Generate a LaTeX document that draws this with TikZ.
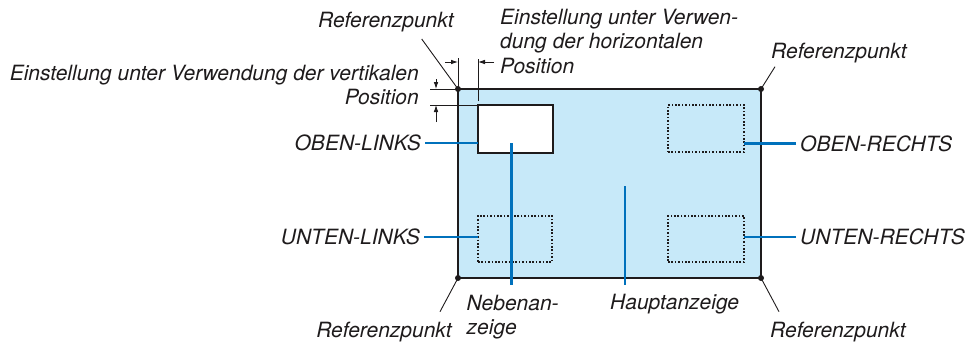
\documentclass[tikz,border=0pt]{standalone}
\usepackage{fontspec}
\setmainfont{TeX Gyre Heros}
\usepackage{tikz}
\usetikzlibrary{arrows.meta,positioning,calc}
\definecolor{screenblue}{RGB}{199,233,249}
\definecolor{leadblue}{RGB}{0,113,188}
\definecolor{inkgray}{RGB}{30,27,28}

\begin{document}
\begin{tikzpicture}[
    x=1pt, y=-1pt,
    lbl/.style={
        font=\fontsize{21}{24.5}\selectfont\itshape,
        text=inkgray,
        inner sep=0pt
    },
    screen/.style={
        draw=inkgray,
        line width=1.4pt,
        fill=screenblue,
        inner sep=0pt, outer sep=0pt
    },
    subwin/.style={
        draw=inkgray,
        line width=1.2pt,
        fill=white,
        inner sep=0pt, outer sep=0pt
    },
    spot/.style={
        draw=inkgray,
        line width=1.2pt,
        dash pattern=on 1.6pt off 1.8pt,
        inner sep=0pt, outer sep=0pt
    },
    lead/.style={draw=leadblue, line width=2.5pt},
    pin/.style={draw=inkgray, line width=0.9pt},
    dim/.style={-{Latex[length=7pt,width=4.6pt]}, line width=0.8pt, inkgray}
]
\useasboundingbox (0,0) rectangle (971,345);

\node[screen, minimum width=303pt, minimum height=189pt] (main) at (609.5,183.5) {};
\node[subwin, minimum width=75pt, minimum height=48pt] (sub) at (515.5,129) {};
\node[spot, minimum width=74pt, minimum height=46pt] (ul) at (515,239) {};
\node[spot, minimum width=76pt, minimum height=47pt] (or) at (706,128.5) {};
\node[spot, minimum width=76pt, minimum height=46pt] (ur) at (706,239) {};

\node[lbl, anchor=east, inner xsep=4pt] (tol) at (425,143) {OBEN-LINKS};
\node[lbl, anchor=east, inner xsep=4pt] (tul) at (424,237) {UNTEN-LINKS};
\node[lbl, anchor=west, inner xsep=4pt] (tor) at (796,143.5) {OBEN-RECHTS};
\node[lbl, anchor=west, inner xsep=4pt] (tur) at (796,237) {UNTEN-RECHTS};

\draw[lead] (tol) -- (tol -| sub.west);
\draw[lead] (tul) -- (tul -| ul.west);
\draw[lead] (tor) -- (tor -| or.east);
\draw[lead] (tur) -- (tur -| ur.east);

\coordinate (subpt) at (511.7,143);
\coordinate (nebend) at (511.7,285);
\coordinate (hauptpt) at (625,186);
\coordinate (hauptend) at (625,285);
\draw[lead] (subpt) -- (nebend);
\draw[lead] (hauptpt) -- (hauptend);
\node[lbl, align=left, anchor=north west] (neben) at (466.5,294.5) {Nebenan-\\zeige};
\node[lbl, anchor=base west] (haupt) at (610,309) {Hauptanzeige};

\foreach \c in {north west, north east, south west, south east}
    \fill[inkgray] (main.\c) circle[radius=3pt];

\coordinate (tlend) at (421.7,39);
\coordinate (trend) at (775,66.7);
\coordinate (blend) at (440,311.7);
\coordinate (brend) at (779,311.7);
\draw[pin] (tlend) -- (main.north west);
\draw[pin] (trend) -- (main.north east);
\draw[pin] (main.south west) -- (blend);
\draw[pin] (main.south east) -- (brend);

\node[lbl, anchor=base west] (reftl) at (318,28) {Referenzpunkt};
\node[lbl, anchor=base west] (reftr) at (771,59) {Referenzpunkt};
\node[lbl, anchor=base east] (refbl) at (452,337) {Referenzpunkt};
\node[lbl, anchor=base west] (refbr) at (770,337) {Referenzpunkt};

\node[lbl, align=left, anchor=north west] (horiz) at (500,8.7) {Einstellung unter Verwen-\\dung der horizontalen\\Position};
\node[lbl, align=right, anchor=north east] (vert) at (419,64.7) {Einstellung unter Verwendung der vertikalen\\Position};

\draw[pin] (main.north west) -- ++(0,-31);
\draw[pin] ($(sub.north west)+(0,-4)$) -- ++(0,-42);
\draw[dim] ($(main.north west)+(-13,-27)$) -- ++(13,0);
\draw[dim] ($(sub.north west)+(16,-43)$) -- ++(-16,0);

\draw[pin] (main.north west) -- ++(-28,0);
\draw[pin] (sub.north west) -- ++(-48,0);
\draw[dim] ($(main.north west)+(-22,-10)$) -- ++(0,10);
\draw[dim] ($(sub.north west)+(-42,17)$) -- ++(0,-17);
\end{tikzpicture}
\end{document}
